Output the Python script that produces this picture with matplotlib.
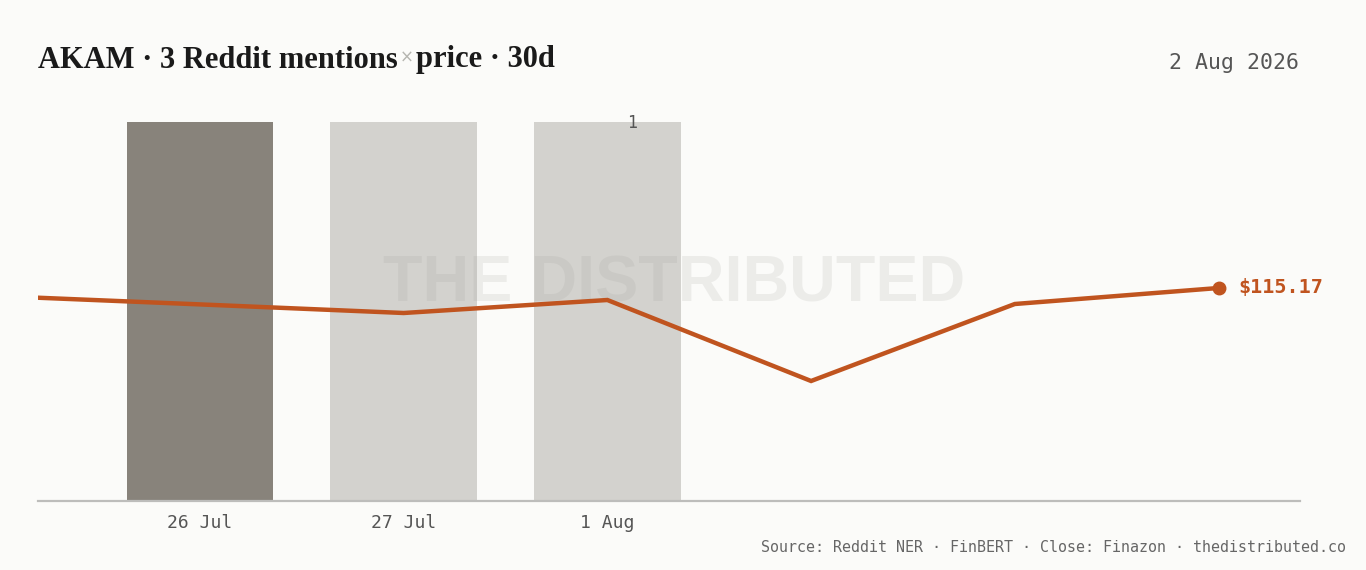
import matplotlib.pyplot as plt

# Data
bar_labels = ['26 Jul', '27 Jul', '1 Aug']
mentions = [1, 1, 1]
bar_colors = ['#88837b', '#d3d2ce', '#d3d2ce']

# close prices on the same day slots (first slot falls left of the axis)
price_idx = [-1, 0, 1, 2, 3, 4, 5]
closes = [114.77, 114.35, 113.92, 114.57, 110.52, 114.37, 115.17]

bg = '#fbfbf9'
orange = '#c0541f'
mono = 'DejaVu Sans Mono'

fig = plt.figure(figsize=(13.66, 5.70), dpi=100, facecolor=bg)
# axes box in pixels: x 38..1300, y 122..501 (from top)
W, H = 1366, 570
ax = fig.add_axes([38 / W, (H - 501) / H, (1300 - 38) / W, (501 - 122) / H])
ax.set_facecolor(bg)

# mention bars
x_bars = list(range(len(bar_labels)))
ax.bar(x_bars, mentions, width=0.72, color=bar_colors, zorder=1)
ax.set_xlim(-0.795, 5.40)
ax.set_ylim(0, 1)
ax.set_xticks(x_bars)
ax.set_xticklabels(bar_labels, fontfamily=mono, fontsize=13, color='#555555')
ax.tick_params(axis='x', length=0, pad=9)
ax.set_yticks([])
for s in ['top', 'right', 'left']:
    ax.spines[s].set_visible(False)
ax.spines['bottom'].set_color('#bdbdbb')
ax.spines['bottom'].set_linewidth(1.6)

# max label
ax.text(2.12, 0.997, '1', fontfamily=mono, fontsize=12, color='#555555',
        ha='center', va='center')

# watermark
ax.text(2.33, 0.57, 'THE DISTRIBUTED', fontfamily='Liberation Sans', fontweight='bold',
        fontsize=46.5, color='#9a9a94', alpha=0.15, ha='center', va='center', zorder=2)

# price line
ax2 = ax.twinx()
ax2.set_ylim(104.52, 123.47)
ax2.axis('off')
ax2.plot(price_idx, closes, color=orange, lw=3.2, solid_joinstyle='miter', zorder=3)
ax2.plot(price_idx[-1], closes[-1], 'o', color=orange, ms=9, zorder=4)
ax2.annotate(f'${closes[-1]:.2f}', (price_idx[-1], closes[-1]), xytext=(14, 0),
             textcoords='offset points', fontfamily=mono, fontweight='bold', fontsize=14.5,
             color=orange, ha='left', va='center')

# title in pieces so the × can be lighter
tx = fig.text(38 / W, 1 - 60 / H, 'AKAM · 3 Reddit mentions', fontfamily='Liberation Serif',
              fontweight='bold', fontsize=22, color='#1a1a1a', va='center')
fig.canvas.draw()
r = fig.canvas.get_renderer()
bb = tx.get_window_extent(r)
t2 = fig.text(bb.x1 / W + 2 / W, 1 - 58 / H, '×', fontfamily='DejaVu Sans', fontsize=12,
              color='#b5b5b0', va='center')
bb2 = t2.get_window_extent(r)
fig.text(bb2.x1 / W + 2 / W, 1 - 60 / H, 'price · 30d', fontfamily='Liberation Serif',
         fontweight='bold', fontsize=22, color='#1a1a1a', va='center')

fig.text(1299 / W, 1 - 63 / H, '2 Aug 2026', fontfamily=mono, fontsize=15.5,
         color='#555555', ha='right', va='center')
fig.text(1346 / W, 1 - 547 / H,
         'Source: Reddit NER · FinBERT · Close: Finazon · thedistributed.co',
         fontfamily=mono, fontsize=10.8, color='#666666', ha='right', va='center')

fig.savefig('out.png', dpi=100, facecolor=bg)
